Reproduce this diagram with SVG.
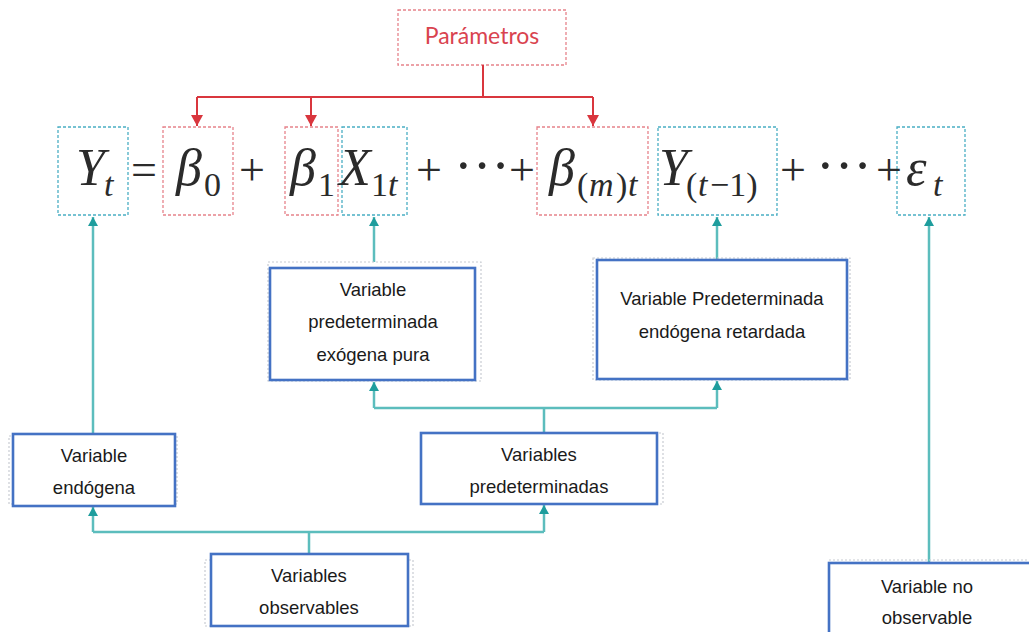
<svg xmlns="http://www.w3.org/2000/svg" width="1029" height="632" viewBox="0 0 1029 632">
<style>
.bg{fill:#ffffff}
.redbox{fill:none;stroke:#e6838b;stroke-width:1.3;stroke-dasharray:3 2}
.tealbox{fill:none;stroke:#4aaec4;stroke-width:1.3;stroke-dasharray:3 2}
.ghost{fill:none;stroke:#c8ccd2;stroke-width:1.2;stroke-dasharray:2 2}
.node{fill:#ffffff;stroke:#4472c4;stroke-width:2.6}
.lbl{font-family:"Liberation Sans",Arial,sans-serif;font-size:18.5px;fill:#1a1a1a;text-anchor:middle}
.param{font-family:Lato,"Open Sans",sans-serif;font-size:23px;fill:#d9434f;text-anchor:middle}
.m{font-family:"Liberation Serif","Times New Roman",serif;font-style:italic;font-size:52px;fill:#2b2b2b}
.op{font-family:"Liberation Serif","Times New Roman",serif;font-style:normal;font-size:46px;fill:#2b2b2b}
.dots{font-family:"Liberation Serif","Times New Roman",serif;font-style:normal;font-size:56px;fill:#2b2b2b}
.s{font-size:34px;font-style:italic}
.su{font-size:34px;font-style:normal}
.redline{fill:none;stroke:#d9363e;stroke-width:2}
.tealline{fill:none;stroke:#5cbdbd;stroke-width:2.5}
</style>
<defs>
<marker id="at" markerUnits="userSpaceOnUse" markerWidth="10" markerHeight="10" viewBox="0 0 10 10" refX="5" refY="0" orient="0">
<path d="M5,0 L10,9 L0,9 Z" fill="#1e9d9d"/>
</marker>
<marker id="ard" markerUnits="userSpaceOnUse" markerWidth="12" markerHeight="12" viewBox="0 0 12 12" refX="6" refY="11" orient="0">
<path d="M0,0 L12,0 L6,11 Z" fill="#d9363e"/>
</marker>
</defs>
<rect class="bg" x="0" y="0" width="1029" height="632"/>

<g id="parametros">
<rect class="redbox" x="398" y="10" width="168" height="55"/>
<text class="param" x="482" y="44">Parámetros</text>
</g>

<g id="formula">
<rect class="tealbox" x="58" y="127" width="70" height="88"/>
<rect class="redbox" x="163" y="127" width="70" height="88"/>
<rect class="redbox" x="285" y="127" width="53" height="88"/>
<rect class="tealbox" x="342" y="127" width="65" height="88"/>
<rect class="redbox" x="537" y="127" width="111" height="88"/>
<rect class="tealbox" x="658" y="127" width="119" height="88"/>
<rect class="tealbox" x="897" y="127" width="68" height="88"/>
<text class="m" y="185"><tspan x="76">Y</tspan><tspan class="s" x="104" y="196">t</tspan></text>
<text class="op" x="131" y="185">=</text>
<text class="m" y="185"><tspan x="176">β</tspan><tspan class="su" x="204" y="196">0</tspan></text>
<text class="op" x="239" y="185">+</text>
<text class="m" y="185"><tspan x="290">β</tspan><tspan class="su" x="318" y="196">1</tspan></text>
<text class="m" y="185"><tspan x="339">X</tspan><tspan class="su" x="371" y="196">1</tspan><tspan class="s" x="388" y="196">t</tspan></text>
<text class="op" x="416" y="185">+</text>
<text class="dots" x="454" y="185">···</text>
<text class="op" x="509" y="185">+</text>
<text class="m" y="185"><tspan x="549">β</tspan><tspan class="su" x="577" y="196">(</tspan><tspan class="s" x="589" y="196">m</tspan><tspan class="su" x="616" y="196">)</tspan><tspan class="s" x="628" y="196">t</tspan></text>
<text class="m" y="185"><tspan x="659">Y</tspan><tspan class="su" x="686" y="196">(</tspan><tspan class="s" x="698" y="196">t</tspan><tspan class="su" x="710" y="196">−1)</tspan></text>
<text class="op" x="780" y="185">+</text>
<text class="dots" x="816" y="185">···</text>
<text class="op" x="876" y="185">+</text>
<text class="m" y="185"><tspan x="906">ε</tspan><tspan class="s" x="933" y="196">t</tspan></text>
</g>

<g id="connectors">
<path class="redline" d="M483,65 V97 M197,97 H593"/>
<path class="redline" d="M197,97 V126" marker-end="url(#ard)"/>
<path class="redline" d="M311,97 V126" marker-end="url(#ard)"/>
<path class="redline" d="M593,97 V126" marker-end="url(#ard)"/>
<path class="tealline" d="M93,433 V217" marker-end="url(#at)"/>
<path class="tealline" d="M374,262 V217" marker-end="url(#at)"/>
<path class="tealline" d="M717,260 V217" marker-end="url(#at)"/>
<path class="tealline" d="M929,563 V217" marker-end="url(#at)"/>
<path class="tealline" d="M544,432 V408 M374,408 H717"/>
<path class="tealline" d="M374,408 V382" marker-end="url(#at)"/>
<path class="tealline" d="M717,408 V381" marker-end="url(#at)"/>
<path class="tealline" d="M309,554 V532 M93,532 H544"/>
<path class="tealline" d="M93,532 V507" marker-end="url(#at)"/>
<path class="tealline" d="M544,532 V505" marker-end="url(#at)"/>
</g>

<g id="exogena">
<rect class="ghost" x="268" y="262" width="213" height="119"/>
<rect class="node" x="270" y="268" width="205" height="112"/>
<text class="lbl" x="373" y="296">Variable</text>
<text class="lbl" x="373" y="328">predeterminada</text>
<text class="lbl" x="373" y="361">exógena pura</text>
</g>

<g id="retardada">
<rect class="ghost" x="593" y="258" width="257" height="122"/>
<rect class="node" x="597" y="260" width="250" height="119"/>
<text class="lbl" x="722" y="305">Variable Predeterminada</text>
<text class="lbl" x="722" y="338">endógena retardada</text>
</g>

<g id="endogena">
<rect class="ghost" x="9" y="436" width="168" height="68"/>
<rect class="node" x="13" y="434" width="162" height="72"/>
<text class="lbl" x="94" y="462">Variable</text>
<text class="lbl" x="94" y="494">endógena</text>
</g>

<g id="predeterminadas">
<rect class="ghost" x="423" y="433" width="240" height="71"/>
<rect class="node" x="421" y="433" width="236" height="71"/>
<text class="lbl" x="539" y="461">Variables</text>
<text class="lbl" x="539" y="493">predeterminadas</text>
</g>

<g id="observables">
<rect class="ghost" x="205" y="560" width="208" height="66"/>
<rect class="node" x="211" y="554" width="197" height="72"/>
<text class="lbl" x="309" y="582">Variables</text>
<text class="lbl" x="309" y="614">observables</text>
</g>

<g id="noobservable">
<rect class="ghost" x="829" y="560" width="210" height="80"/>
<rect class="node" x="829" y="563" width="210" height="80"/>
<text class="lbl" x="927" y="593">Variable no</text>
<text class="lbl" x="927" y="624">observable</text>
</g>
</svg>
